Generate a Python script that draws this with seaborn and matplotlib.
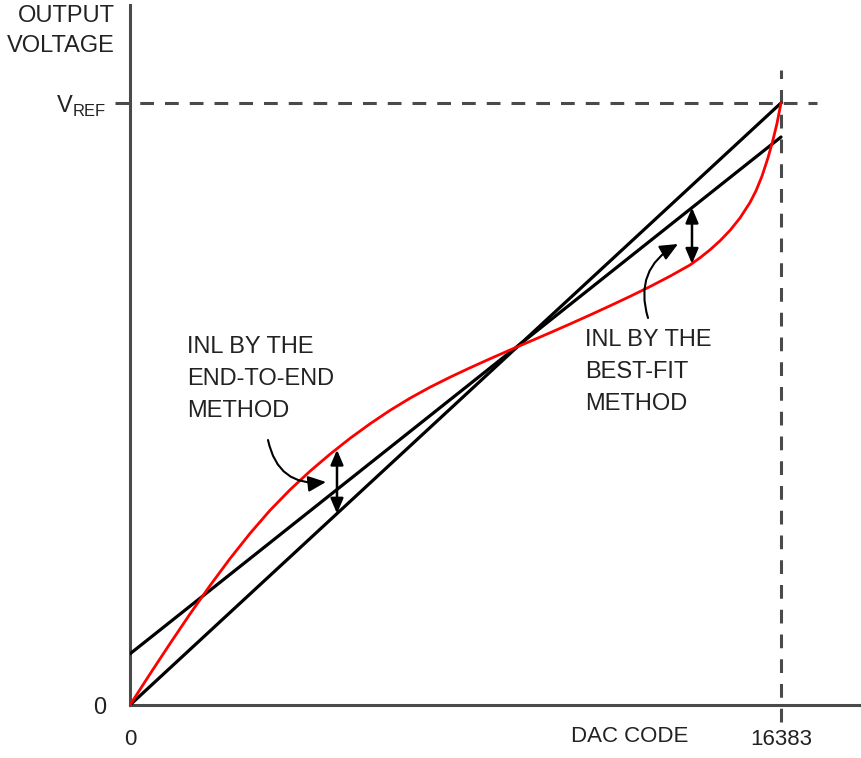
import numpy as np
import pandas as pd
import matplotlib
matplotlib.use("Agg")
import matplotlib.pyplot as plt
import seaborn as sns

# ---- data -------------------------------------------------------------
FULL_SCALE = 16383

# actual DAC transfer curve (output as a fraction of VREF)
dac_code = [0, 503, 1007, 1510, 2013, 2517, 3020, 3523, 4027, 4530, 5033,
            5536, 6040, 6543, 7046, 7550, 8053, 8556, 9060, 9563, 10066,
            10570, 11073, 11576, 12080, 12583, 13086, 13590, 14093, 14345,
            14596, 14848, 15100, 15351, 15603, 15754, 15905, 16056, 16182,
            16282, 16383]
dac_output = [0.0, 0.0515, 0.1020, 0.1512, 0.1983, 0.2432, 0.2850, 0.3233,
              0.3575, 0.3884, 0.4166, 0.4429, 0.4671, 0.4894, 0.5096, 0.5279,
              0.5445, 0.5601, 0.5751, 0.5897, 0.6040, 0.6183, 0.6329, 0.6478,
              0.6631, 0.6787, 0.6950, 0.7123, 0.7309, 0.7429, 0.7561, 0.7711,
              0.7884, 0.8090, 0.8347, 0.8542, 0.8786, 0.9090, 0.9389, 0.9661,
              1.0]

# ideal end-to-end line and best-fit line
end_to_end_code = [0, FULL_SCALE]
end_to_end_out = [0.0, 1.0]
best_fit_code = [0, FULL_SCALE]
best_fit_out = [0.085, 0.9435]

# INL markers: (code, curve value, reference-line value)
inl_end_to_end = (5209, 0.424, 0.318)
inl_best_fit = (14143, 0.733, 0.826)

x_tick_labels = ["0", "16383"]
y_tick_labels = ["0", r"V$_{\mathregular{REF}}$"]

# ---- style ------------------------------------------------------------
sns.set_theme(style="white")
plt.rcParams["font.family"] = ["Liberation Sans", "DejaVu Sans"]
plt.rcParams["mathtext.fontset"] = "custom"
plt.rcParams["mathtext.rm"] = "Liberation Sans"

W, H = 862, 758
AXIS_GREY = "#4a4a4a"
TEXT = "#222222"
FS = 17
FS_TICK = 16

fig = plt.figure(figsize=(W / 100, H / 100), dpi=100)
fig.patch.set_facecolor("white")

# axes whose origin sits at the lower-left corner
x0, y0, top = 130, 705, 5
ax = fig.add_axes([x0 / W, (H - y0) / H, (W - x0) / W, (y0 - top) / H])
px_per_code = (781 - x0) / FULL_SCALE
px_per_v = (y0 - 103) / 1.0
ax.set_xlim(0, (W - x0) / px_per_code)
ax.set_ylim(0, (y0 - top) / px_per_v)
ax.set_facecolor("white")

curves = pd.DataFrame({"code": dac_code, "out": dac_output})
sns.lineplot(data=curves, x="code", y="out", ax=ax, color="#ff0000",
             lw=2.0, sort=False, zorder=4)
sns.lineplot(x=end_to_end_code, y=end_to_end_out, ax=ax, color="black",
             lw=2.3, zorder=3)
sns.lineplot(x=best_fit_code, y=best_fit_out, ax=ax, color="black",
             lw=2.3, zorder=3)

# dashed full-scale guides
dash = dict(color=AXIS_GREY, lw=2.2, dashes=(4.5, 3.6), clip_on=False, zorder=2)
ax.plot([-15 / px_per_code, (817 - x0) / px_per_code], [1.0, 1.0], **dash)
ax.plot([FULL_SCALE, FULL_SCALE], [(y0 - 722) / px_per_v, (y0 - 70) / px_per_v], **dash)

# spines / ticks
for side in ("top", "right"):
    ax.spines[side].set_visible(False)
for side in ("left", "bottom"):
    ax.spines[side].set_color(AXIS_GREY)
    ax.spines[side].set_linewidth(2.2)
ax.set_xticks([0, FULL_SCALE])
ax.set_xticklabels(x_tick_labels)
ax.set_yticks([0, 1.0])
ax.set_yticklabels(y_tick_labels)
ax.tick_params(axis="both", length=11, width=2.2, color=AXIS_GREY,
               direction="out", labelsize=FS_TICK, labelcolor=TEXT, pad=6)
ax.tick_params(axis="y", labelsize=FS, pad=6)
ax.xaxis.get_major_ticks()[1].tick1line.set_visible(False)
ax.yaxis.get_major_ticks()[1].tick1line.set_visible(False)
ax.set_xlabel("")
ax.set_ylabel("")
ax.grid(False)


def fx(px):
    return px / W


def fy(py):
    return 1 - py / H


fig.text(fx(115), fy(5), "OUTPUT\nVOLTAGE", ha="right", va="top",
         fontsize=FS, color=TEXT, linespacing=1.45)
fig.text(fx(630), fy(736), "DAC CODE", ha="center", va="center",
         fontsize=FS_TICK, color=TEXT)

# annotation text
fig.text(fx(187), fy(336), "INL BY THE\nEND-TO-END\nMETHOD", ha="left", va="top",
         fontsize=FS, color=TEXT, linespacing=1.6)
fig.text(fx(585), fy(329), "INL BY THE\nBEST-FIT\nMETHOD", ha="left", va="top",
         fontsize=FS, color=TEXT, linespacing=1.6)

# double-headed INL arrows
dbl = dict(arrowstyle="<|-|>,head_length=0.75,head_width=0.32", color="black",
           lw=1.8, shrinkA=0, shrinkB=0, mutation_scale=12)
for code, curve_v, line_v in (inl_end_to_end, inl_best_fit):
    ax.annotate("", xy=(code, curve_v), xytext=(code, line_v),
                arrowprops=dbl, zorder=6)


def to_data(px, py):
    return (px - x0) / px_per_code, (y0 - py) / px_per_v


# curved pointer arrows from the labels
ptr = dict(arrowstyle="-|>,head_length=0.9,head_width=0.4", color="black",
           lw=1.5, shrinkA=0, shrinkB=0, mutation_scale=12)
ax.annotate("", xy=to_data(326, 482), xytext=to_data(268, 440),
            arrowprops=dict(ptr, connectionstyle="arc3,rad=0.45"), zorder=6)
ax.annotate("", xy=to_data(678, 244), xytext=to_data(648, 318),
            arrowprops=dict(ptr, connectionstyle="arc3,rad=-0.4"), zorder=6)

fig.savefig("out.png", dpi=100)
